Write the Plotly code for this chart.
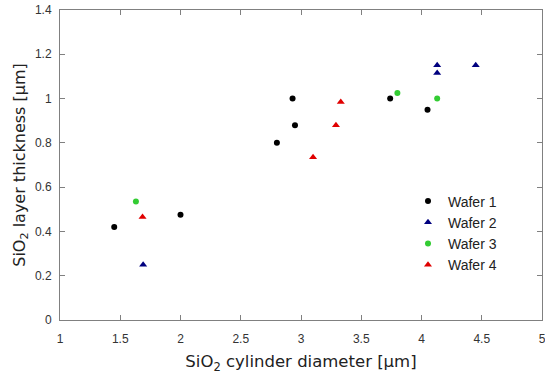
import plotly.graph_objects as go

w1_x = [1.45, 2.00, 2.80, 2.93, 2.95, 3.74, 4.05]
w1_y = [0.42, 0.475, 0.80, 1.00, 0.88, 1.00, 0.95]
w2_x = [1.69, 4.13, 4.13, 4.45]
w2_y = [0.25, 1.15, 1.115, 1.15]
w3_x = [1.63, 3.80, 4.13]
w3_y = [0.535, 1.025, 1.00]
w4_x = [1.685, 3.10, 3.29, 3.33]
w4_y = [0.465, 0.735, 0.88, 0.985]

x_ticks = [1, 1.5, 2, 2.5, 3, 3.5, 4, 4.5, 5]
x_labels = ["1", "1.5", "2", "2.5", "3", "3.5", "4", "4.5", "5"]
y_ticks = [0, 0.2, 0.4, 0.6, 0.8, 1.0, 1.2, 1.4]
y_labels = ["0", "0.2", "0.4", "0.6", "0.8", "1", "1.2", "1.4"]

names = ["Wafer 1", "Wafer 2", "Wafer 3", "Wafer 4"]
colors = ["#000000", "#00007f", "#33cc33", "#e00000"]
symbols = ["circle", "triangle-up", "circle", "triangle-up"]
sizes = [6, 7, 6, 7]

fig = go.Figure()
for xs, ys, n, c, s, sz in zip([w1_x, w2_x, w3_x, w4_x], [w1_y, w2_y, w3_y, w4_y],
                               names, colors, symbols, sizes):
    fig.add_trace(go.Scatter(x=xs, y=ys, mode="markers", name=n,
                             marker=dict(color=c, symbol=s, size=sz, line=dict(width=0))))

axis_common = dict(showgrid=False, zeroline=False, showline=True, linecolor="#808080",
                   linewidth=1, mirror="ticks", ticks="inside", ticklen=5,
                   tickcolor="#808080", automargin=False, ticklabeloverflow="allow",
                   tickfont=dict(family="Liberation Sans", size=12, color="#333333"))

fig.update_xaxes(range=[1, 5], tickmode="array", tickvals=x_ticks, ticktext=x_labels,
                 ticklabelstandoff=8,
                 title=dict(text="SiO<sub>2</sub> cylinder diameter [μm]",
                            font=dict(family="DejaVu Sans", size=16.5, color="#222222"),
                            standoff=10),
                 **axis_common)
fig.update_yaxes(range=[0, 1.4], tickmode="array", tickvals=y_ticks, ticktext=y_labels,
                 ticklabelstandoff=5,
                 title=dict(text="SiO<sub>2</sub> layer thickness [μm]",
                            font=dict(family="DejaVu Sans", size=16, color="#222222"),
                            standoff=5),
                 **axis_common)

fig.update_layout(
    width=545, height=375,
    margin=dict(l=60, r=3, t=10, b=55),
    plot_bgcolor="white", paper_bgcolor="white",
    legend=dict(x=0.722, y=0.434, xanchor="left", yanchor="top",
                bgcolor="rgba(0,0,0,0)",
                font=dict(family="Liberation Sans", size=14, color="#222222"),
                itemwidth=30, tracegroupgap=0),
)

fig.write_html("out.html", config={"displayModeBar": False},
               post_script="document.body.style.margin='0';")
